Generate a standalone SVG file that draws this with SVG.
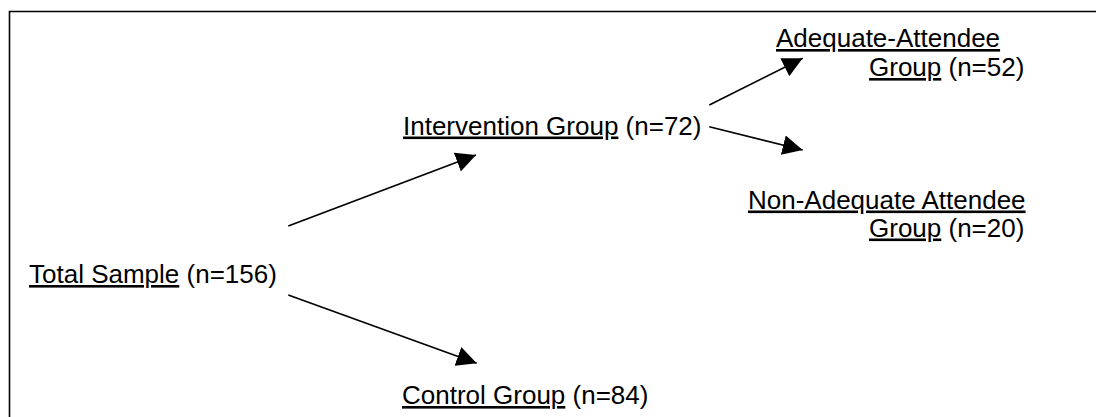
<svg xmlns="http://www.w3.org/2000/svg" width="1096" height="417" viewBox="0 0 1096 417">
<style>
text{font-family:"Liberation Sans",Arial,sans-serif;font-size:26px;fill:#000}
.u{text-decoration:underline}
.conn{stroke:#000;stroke-width:1.7;fill:none;marker-end:url(#ah)}
</style>
<defs>
<marker id="ah" viewBox="0 0 20 20" refX="20" refY="10" markerWidth="20" markerHeight="20" markerUnits="userSpaceOnUse" orient="auto">
<path d="M0,0 L20,10 L0,20 z" fill="#000"/>
</marker>
</defs>
<rect width="1096" height="417" fill="#fff"/>
<path d="M9.5,417 V11.5 H1096" stroke="#000" stroke-width="1.6" fill="none"/>
<g id="connectors">
<line class="conn" x1="288.3" y1="226" x2="476" y2="155"/>
<line class="conn" x1="288.3" y1="295" x2="476.7" y2="363.3"/>
<line class="conn" x1="709.3" y1="105" x2="802.7" y2="58.3"/>
<line class="conn" x1="709.3" y1="126.7" x2="802.7" y2="150"/>
</g>
<g id="total"><text x="29" y="283"><tspan class="u">Total Sample</tspan> (n=156)</text></g>
<g id="intervention"><text x="403" y="134.5"><tspan class="u">Intervention Group</tspan> (n=72)</text></g>
<g id="control"><text x="402" y="404"><tspan class="u">Control Group</tspan> (n=84)</text></g>
<g id="adequate">
<text x="776" y="47"><tspan class="u">Adequate-Attendee</tspan></text>
<text x="869" y="76"><tspan class="u">Group</tspan> (n=52)</text>
</g>
<g id="nonadequate">
<text x="748" y="208.5"><tspan class="u">Non-Adequate Attendee</tspan></text>
<text x="869" y="236.5"><tspan class="u">Group</tspan> (n=20)</text>
</g>
</svg>
